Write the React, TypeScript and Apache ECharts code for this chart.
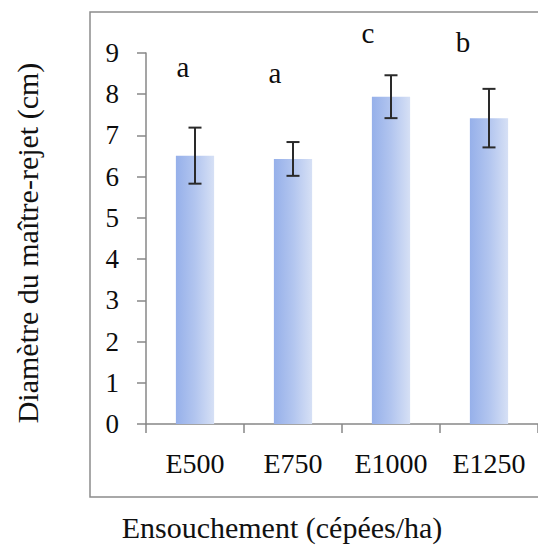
import React, { useEffect, useRef } from "react";
import * as echarts from "echarts";

const categories = ["E500", "E750", "E1000", "E1250"];
const means = [6.51, 6.43, 7.94, 7.42];
const errors = [0.68, 0.41, 0.52, 0.71];
const letters = ["a", "a", "c", "b"];
const letterY = [8.65, 8.51, 9.48, 9.26];
const letterShift = [-12, -18, -23, -26];
const yTicks = [0, 1, 2, 3, 4, 5, 6, 7, 8, 9];

const FONT = "Liberation Serif";

export default function App() {
  const ref = useRef<HTMLDivElement>(null);
  useEffect(() => {
    if (!ref.current) return;
    const chart = echarts.init(ref.current, undefined, { renderer: "svg" });
    const option: any = {
      animation: false,
      backgroundColor: "#ffffff",
      textStyle: { fontFamily: FONT },
      grid: { left: 146, top: 53, right: 0, bottom: 123 },
      xAxis: {
        type: "category",
        data: categories,
        boundaryGap: true,
        axisLine: { show: true, lineStyle: { color: "#878787", width: 1.5 } },
        axisTick: { show: true, length: 9, inside: false, lineStyle: { color: "#878787", width: 1.5 } },
        axisLabel: { fontFamily: FONT, fontSize: 28, color: "#0d0d0d", margin: 25 },
        splitLine: { show: false },
      },
      yAxis: {
        type: "value",
        min: yTicks[0],
        max: yTicks[yTicks.length - 1],
        interval: 1,
        axisLine: { show: true, lineStyle: { color: "#878787", width: 1.5 } },
        axisTick: { show: true, length: 9, inside: false, lineStyle: { color: "#878787", width: 1.5 } },
        axisLabel: { fontFamily: FONT, fontSize: 27, color: "#0d0d0d", margin: 27 },
        splitLine: { show: false },
      },
      graphic: [
        {
          type: "rect",
          shape: { x: 90, y: 12, width: 470, height: 485 },
          style: { fill: "none", stroke: "#8c8c8c", lineWidth: 1.5 },
          silent: true,
          z: -10,
        },
        {
          type: "text",
          x: 282,
          y: 527,
          style: {
            text: "Ensouchement (cépées/ha)",
            fontFamily: FONT,
            fontSize: 30,
            fill: "#111",
            textAlign: "center",
            textVerticalAlign: "middle",
          },
        },
        {
          type: "text",
          x: 27,
          y: 243,
          rotation: Math.PI / 2,
          style: {
            text: "Diamètre du maître-rejet (cm)",
            fontFamily: FONT,
            fontSize: 30,
            fill: "#111",
            textAlign: "center",
            textVerticalAlign: "middle",
          },
        },
      ],
      series: [
        {
          type: "bar",
          data: means,
          barWidth: "39%",
          itemStyle: {
            color: new echarts.graphic.LinearGradient(0, 0, 1, 0, [
              { offset: 0, color: "#96b0ea" },
              { offset: 0.5, color: "#b2c5ef" },
              { offset: 1, color: "#d6e0f5" },
            ]),
          },
          z: 2,
        },
        {
          type: "custom",
          data: means.map((m, i) => [i, m - errors[i], m + errors[i]]),
          renderItem: (params: any, api: any) => {
            const i = api.value(0);
            const lo = api.coord([i, api.value(1)]);
            const hi = api.coord([i, api.value(2)]);
            const hw = 6.5;
            const st = { stroke: "#2a2a2a", lineWidth: 2 };
            return {
              type: "group",
              children: [
                { type: "line", shape: { x1: hi[0], y1: hi[1], x2: lo[0], y2: lo[1] }, style: st },
                { type: "line", shape: { x1: hi[0] - hw, y1: hi[1], x2: hi[0] + hw, y2: hi[1] }, style: st },
                { type: "line", shape: { x1: lo[0] - hw, y1: lo[1], x2: lo[0] + hw, y2: lo[1] }, style: st },
              ],
            };
          },
          z: 5,
        },
        {
          type: "custom",
          clip: false,
          data: letters.map((l, i) => [i, letterY[i], letterShift[i]]),
          renderItem: (params: any, api: any) => {
            const i = api.value(0);
            const p = api.coord([i, api.value(1)]);
            return {
              type: "text",
              x: p[0] + api.value(2),
              y: p[1],
              style: {
                text: letters[i],
                fontFamily: FONT,
                fontSize: 29,
                fill: "#0d0d0d",
                textAlign: "center",
                textVerticalAlign: "middle",
              },
            };
          },
          z: 6,
        },
      ],
    };
    chart.setOption(option);
    return () => chart.dispose();
  }, []);
  return (
    <div
      ref={ref}
      style={{ position: "fixed", left: 0, top: 0, width: 538, height: 547, background: "#fff" }}
    />
  );
}
